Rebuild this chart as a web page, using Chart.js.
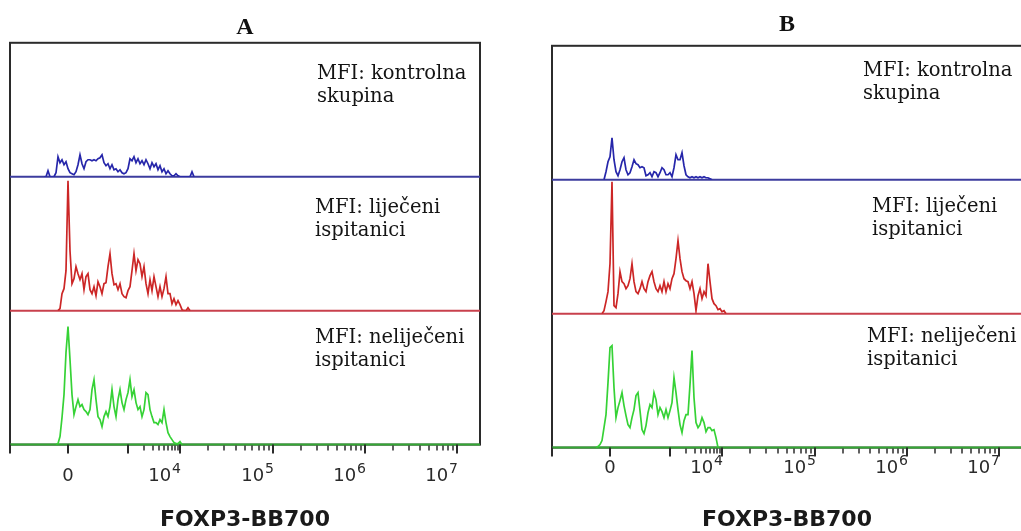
<!DOCTYPE html>
<html>
<head>
<meta charset="utf-8">
<script src="https://cdn.jsdelivr.net/npm/chart.js@4.4.1/dist/chart.umd.min.js"></script>
<style>
  html, body { margin: 0; padding: 0; background: #fff; width: 1021px; height: 531px; overflow: hidden; }
  canvas { position: absolute; top: 0; }
  #chartA { left: 0; }
  #chartB { left: 520px; }
</style>
</head>
<body>
<canvas id="chartA" width="520" height="540"></canvas>
<canvas id="chartB" width="520" height="540"></canvas>
<script>
// x axis is in display units of the biexponential FOXP3 axis
const axisMin = -58;
const axisMax = 412;
const decadePositions = [60, 112, 205, 297, 389];      // 10^3 .. 10^7
const edgeTicks = [-58, 0];
const labelPositions = [0, 112, 205, 297, 389];
const labelBases = ['0', '10', '10', '10', '10'];
const labelExponents = ['', '4', '5', '6', '7'];

const binWidth = 2;
const countMax = 134;

// panel A histograms (start position, counts per bin)
const aBlueStart = -24;
const aBlue = [0,0,6,0,0,0,4,20,14,17,12,15,8,4,3,2,5,12,22,13,8,15,17,17,16,17,16,18,19,22,
  14,11,13,8,12,7,8,5,7,4,3,4,8,18,16,20,14,18,13,16,12,17,13,8,14,10,13,7,11,5,8,3,6,3,1,1,3,1,
  0,0,0,0,0,0,5,0];
const aRedStart = -10;
const aRed = [0,2,17,22,40,130,60,27,32,44,37,31,37,21,34,37,21,17,24,15,29,24,17,27,28,44,57,37,
  26,27,21,27,17,14,13,20,24,40,57,40,51,47,34,44,27,17,31,20,34,24,14,24,14,22,34,17,17,7,12,6,
  10,6,1,0,0,3,0];
const aGreenStart = -12;
const aGreen = [0,1,8,27,50,92,118,85,50,30,38,45,38,40,35,33,30,35,55,65,45,28,25,18,28,33,28,38,
  55,38,28,45,55,42,35,45,52,65,48,55,42,35,38,28,35,52,50,35,28,22,22,20,25,22,35,22,12,8,5,2,
  1,1,3,0];

// panel B histograms
const bBlueStart = -6;
const bBlue = [0,8,18,23,42,20,8,4,10,18,22,10,5,7,13,20,16,15,12,13,12,4,5,7,3,8,7,3,7,12,10,5,5,
  7,3,12,25,20,20,27,14,5,3,2,3,2,3,2,3,2,3,2,2,1,0];
const bRedStart = -8;
const bRed = [0,3,12,22,50,132,8,6,20,42,32,30,25,28,35,50,32,22,20,25,32,25,22,32,38,42,32,25,22,
  28,22,32,22,30,25,35,40,55,73,55,42,35,33,32,25,32,20,3,18,25,15,22,18,50,32,15,10,8,4,5,2,3,0];
const bGreenStart = -14;
const bGreen = [0,1,3,7,20,33,65,100,102,60,30,40,47,55,42,32,23,20,30,38,52,55,37,18,14,22,35,43,
  40,55,48,33,40,36,30,38,30,37,45,70,55,38,23,15,27,33,33,63,97,50,25,20,23,30,25,16,20,20,17,
  18,10,0];

const groupNames = [['MFI: kontrolna', 'skupina'], ['MFI: liječeni', 'ispitanici'], ['MFI: neliječeni', 'ispitanici']];

const lineColors = ['#2626aa', '#cc2626', '#36d236'];
const baseColors = ['#3c3c9e', '#c8404c', '#33a833'];
const panelKeys = ['yBlue', 'yRed', 'yGreen'];

Chart.defaults.font.family = '"DejaVu Sans"';

function toPoints(start, counts) {
  return counts.map((c, i) => ({ x: start + i * binWidth, y: c }));
}

function minorTicks() {
  const out = [];
  for (let d = 0; d < decadePositions.length - 1; d++) {
    const a = decadePositions[d], b = decadePositions[d + 1];
    for (let k = 2; k <= 9; k++) out.push(a + (b - a) * Math.log10(k));
  }
  return out;
}

const flowDecor = {
  id: 'flowDecor',
  beforeDatasetsDraw(chart) {
    const { ctx, chartArea: a } = chart;
    ctx.save();
    ctx.strokeStyle = '#2b2b2b';
    ctx.lineWidth = 2;
    ctx.strokeRect(a.left, a.top, a.right - a.left, a.bottom - a.top);
    panelKeys.forEach((k, i) => {
      const y = chart.scales[k].getPixelForValue(0);
      ctx.strokeStyle = baseColors[i];
      ctx.beginPath();
      ctx.moveTo(a.left, y);
      ctx.lineTo(a.right, y);
      ctx.stroke();
    });
    ctx.restore();
  },
  afterDraw(chart, args, opts) {
    const { ctx, chartArea: a } = chart;
    const xs = chart.scales.x;
    ctx.save();
    ctx.strokeStyle = '#2b2b2b';
    // major ticks
    ctx.lineWidth = 2;
    edgeTicks.concat(decadePositions).forEach(v => {
      const x = Math.round(xs.getPixelForValue(v));
      ctx.beginPath(); ctx.moveTo(x, a.bottom); ctx.lineTo(x, a.bottom + 9); ctx.stroke();
    });
    ctx.lineWidth = 1.5;
    minorTicks().forEach(v => {
      const x = Math.round(xs.getPixelForValue(v));
      ctx.beginPath(); ctx.moveTo(x, a.bottom + 1); ctx.lineTo(x, a.bottom + 6); ctx.stroke();
    });
    // tick labels
    ctx.fillStyle = '#2a2a2a';
    ctx.textBaseline = 'alphabetic';
    const yLab = a.bottom + opts.labelDrop;
    labelPositions.forEach((v, i) => {
      const x = xs.getPixelForValue(v);
      const base = labelBases[i], exp = labelExponents[i];
      ctx.font = '18px "DejaVu Sans"';
      const wBase = ctx.measureText(base).width;
      if (!exp) {
        ctx.textAlign = 'center';
        ctx.fillText(base, x, yLab);
        return;
      }
      ctx.font = '14px "DejaVu Sans"';
      const wExp = ctx.measureText(exp).width;
      const left = x + 1 - wBase - 1 - wExp;
      ctx.textAlign = 'left';
      ctx.font = '18px "DejaVu Sans"';
      ctx.fillText(base, left, yLab);
      ctx.font = '14px "DejaVu Sans"';
      ctx.fillText(exp, left + wBase + 1, yLab - 8);
    });
    // group names
    ctx.fillStyle = '#141414';
    ctx.font = '19.5px "DejaVu Serif"';
    ctx.textAlign = 'left';
    panelKeys.forEach((k, i) => {
      const top = chart.scales[k].top;
      const [dx, dy] = opts.notes[i];
      groupNames[i].forEach((line, j) => {
        ctx.fillText(line, a.left + dx, top + dy + j * 23);
      });
    });
    ctx.restore();
  }
};

function yAxis(weight) {
  return {
    type: 'linear', stack: 'hist', stackWeight: 1, position: 'left', weight: weight,
    min: 0, max: countMax,
    grid: { display: false, drawTicks: false, tickLength: 0 },
    ticks: { display: false }, border: { display: false }
  };
}

function makePanel(id, letter, series, cfg) {
  return new Chart(document.getElementById(id), {
    type: 'line',
    data: {
      datasets: series.map((s, i) => ({
        data: toPoints(s[0], s[1]),
        yAxisID: panelKeys[i],
        borderColor: lineColors[i],
        borderWidth: 1.7,
        pointRadius: 0,
        pointHoverRadius: 0,
        tension: 0,
        fill: false
      }))
    },
    options: {
      responsive: false,
      animation: false,
      layout: { autoPadding: false, padding: { left: cfg.padLeft, right: cfg.padRight, top: 0, bottom: 0 } },
      plugins: {
        legend: { display: false },
        tooltip: { enabled: false },
        title: {
          display: true, text: letter, color: '#111',
          font: { family: '"Liberation Serif"', size: 24, weight: 'bold' },
          padding: { top: cfg.titleTop, bottom: cfg.titleBottom }
        },
        flowDecor: { labelDrop: cfg.labelDrop, notes: cfg.notes }
      },
      scales: {
        x: {
          type: 'linear', min: axisMin, max: axisMax,
          grid: { display: false, drawTicks: false, tickLength: 0 },
          border: { display: false }, ticks: { display: false },
          title: {
            display: true, text: 'FOXP3-BB700', color: '#1a1a1a',
            font: { family: '"DejaVu Sans"', size: 22, weight: 'bold' },
            padding: { top: cfg.xTitleTop, bottom: 7 }
          }
        },
        yBlue: yAxis(3),
        yRed: yAxis(2),
        yGreen: yAxis(1)
      }
    },
    plugins: [flowDecor]
  });
}

makePanel('chartA', 'A',
  [[aBlueStart, aBlue], [aRedStart, aRed], [aGreenStart, aGreen]],
  { padLeft: 10, padRight: 40, titleTop: 13, titleBottom: 1, xTitleTop: 62,
    labelDrop: 36, notes: [[307, 36], [305, 36], [305, 32]] });

makePanel('chartB', 'B',
  [[bBlueStart, bBlue], [bRedStart, bRed], [bGreenStart, bGreen]],
  { padLeft: 32, padRight: 18, titleTop: 10, titleBottom: 7, xTitleTop: 59,
    labelDrop: 25, notes: [[311, 30], [320, 32], [315, 28]] });
</script>
</body>
</html>
